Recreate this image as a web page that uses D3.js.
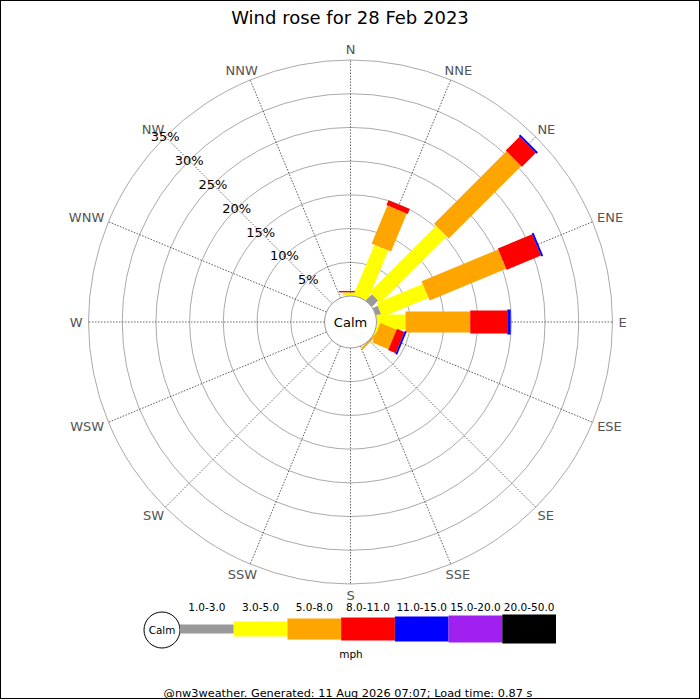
<!DOCTYPE html>
<html>
<head>
<meta charset="utf-8">
<script src="https://cdn.jsdelivr.net/npm/d3@7"></script>
<style>
  body { margin: 0; background: #fff; }
  text { font-family: "DejaVu Sans", sans-serif; }
</style>
</head>
<body>
<div id="rose"></div>
<script>
// Compass points, clockwise from north
var directions = ["N", "NNE", "NE", "ENE", "E", "ESE", "SE", "SSE",
                  "S", "SSW", "SW", "WSW", "W", "WNW", "NW", "NNW"];

// Speed bins (mph) and their colours
var speedBins = ["1.0-3.0", "3.0-5.0", "5.0-8.0", "8.0-11.0", "11.0-15.0", "15.0-20.0", "20.0-50.0"];
var binColours = ["#999999", "#ffff00", "#ffa500", "#ff0000", "#0000ff", "#a020f0", "#000000"];

// Percent of time per direction, one array per speed bin
var bin1to3   = [0, 0, 1.3, 0.8, 0, 0, 0, 0, 0, 0, 0, 0, 0, 0, 0, 0];
var bin3to5   = [0.5, 8.1, 13.9, 7.4, 4.3, 0.3, 0, 0, 0, 0, 0, 0, 0, 0, 0, 0];
var bin5to8   = [0.05, 6.1, 15.2, 12.3, 9.6, 2.6, 0.3, 0, 0, 0, 0, 0, 0, 0, 0, 0];
var bin8to11  = [0.2, 0.8, 2.9, 5.5, 5.5, 1.2, 0, 0, 0, 0, 0, 0, 0, 0, 0, 0];
var bin11to15 = [0, 0, 0.3, 0.3, 0.5, 0.3, 0, 0, 0, 0, 0, 0, 0, 0, 0, 0];
var bin15to20 = [0, 0, 0, 0, 0, 0, 0, 0, 0, 0, 0, 0, 0, 0, 0, 0];
var bin20to50 = [0, 0, 0, 0, 0, 0, 0, 0, 0, 0, 0, 0, 0, 0, 0, 0];

// Ring labels
var ringTicks = [5, 10, 15, 20, 25, 30, 35];

var binValues = [bin1to3, bin3to5, bin5to8, bin8to11, bin11to15, bin15to20, bin20to50];

var width = 700, height = 700;
var cx = 350.5, cy = 322;
var calmRadius = 26;
var outerRadius = 262;

// bar thickness grows with the speed bin
var barWidths = [9, 15, 21, 23, 25, 27, 29];

var svg = d3.select("#rose").append("svg")
  .attr("width", width)
  .attr("height", height);

// frame
svg.append("rect")
  .attr("x", 0.5).attr("y", 0.5)
  .attr("width", width - 1).attr("height", height - 2)
  .attr("fill", "#fff")
  .attr("stroke", "#000");

// title
svg.append("text")
  .attr("x", 350).attr("y", 24)
  .attr("text-anchor", "middle")
  .attr("font-size", 18)
  .text("Wind rose for 28 Feb 2023");

var rScale = d3.scaleLinear().domain([0, 35]).range([calmRadius, outerRadius]);
var angleScale = d3.scaleBand().domain(directions).range([0, 360]).paddingInner(0);
function bearing(d) { return angleScale(d); }
function rad(d) { return bearing(d) * Math.PI / 180; }

var rose = svg.append("g").attr("transform", "translate(" + cx + "," + cy + ")");

// rings
rose.selectAll(".ring").data(ringTicks).enter()
  .append("circle")
  .attr("class", "ring")
  .attr("r", function(d) { return rScale(d); })
  .attr("fill", "none")
  .attr("stroke", "#aaaaaa")
  .attr("stroke-width", 1);

// spokes
rose.selectAll(".spoke").data(directions).enter()
  .append("line")
  .attr("class", "spoke")
  .attr("transform", function(d) { return "rotate(" + bearing(d) + ")"; })
  .attr("x1", 0).attr("y1", -calmRadius)
  .attr("x2", 0).attr("y2", -rScale(35))
  .attr("stroke", "#444")
  .attr("stroke-width", 0.8)
  .attr("stroke-dasharray", "1.5,1.5");

// direction labels, anchored so they sit just outside the outer ring
var labelR = rScale(35) + 6;
var capH = 9.5;
rose.selectAll(".dirLabel").data(directions).enter()
  .append("text")
  .attr("class", "dirLabel")
  .attr("font-size", 13)
  .attr("fill", "#555")
  .text(function(d) { return d; })
  .each(function(d) {
    var t = d3.select(this);
    var w = this.getComputedTextLength();
    var s = Math.sin(rad(d)), c = Math.cos(rad(d));
    var px = s * labelR, py = -c * labelR;
    t.attr("x", px - w * (1 - s) / 2)
     .attr("y", py + capH * (1 - c) / 2);
  });

// stacked bars per direction
directions.forEach(function(dir, i) {
  var cum = 0;
  var g = rose.append("g").attr("transform", "rotate(" + bearing(dir) + ")");
  binValues.forEach(function(values, b) {
    var v = values[i];
    if (v > 0) {
      var r0 = rScale(cum), r1 = rScale(cum + v);
      g.append("rect")
        .attr("x", -barWidths[b] / 2)
        .attr("y", -r1)
        .attr("width", barWidths[b])
        .attr("height", r1 - r0)
        .attr("fill", binColours[b]);
    }
    cum += v;
  });
});

// calm circle
rose.append("circle")
  .attr("r", calmRadius)
  .attr("fill", "#fff")
  .attr("stroke", "#999")
  .attr("stroke-width", 1);
rose.append("text")
  .attr("text-anchor", "middle")
  .attr("dominant-baseline", "central")
  .attr("font-size", 13)
  .text("Calm");

// ring labels along NW
rose.selectAll(".ringLabel").data(ringTicks).enter()
  .append("text")
  .attr("class", "ringLabel")
  .attr("x", function(d) { return -rScale(d) * Math.SQRT1_2; })
  .attr("y", function(d) { return -rScale(d) * Math.SQRT1_2; })
  .attr("text-anchor", "middle")
  .attr("dominant-baseline", "central")
  .attr("font-size", 13)
  .text(function(d) { return d + "%"; });

// legend
var legendX = d3.scaleBand().domain(speedBins).range([180, 556]);
var legend = svg.append("g");
var legendMid = 629;

legend.append("circle")
  .attr("cx", 162).attr("cy", 630).attr("r", 18)
  .attr("fill", "#fff").attr("stroke", "#000");
legend.append("text")
  .attr("x", 162).attr("y", 630)
  .attr("text-anchor", "middle")
  .attr("dominant-baseline", "central")
  .attr("font-size", 10.4)
  .text("Calm");

legend.selectAll(".legBar").data(speedBins).enter()
  .append("rect")
  .attr("class", "legBar")
  .attr("x", function(d) { return legendX(d); })
  .attr("y", function(d, i) { return legendMid - barWidths[i] / 2; })
  .attr("width", legendX.bandwidth())
  .attr("height", function(d, i) { return barWidths[i]; })
  .attr("fill", function(d, i) { return binColours[i]; });

legend.selectAll(".legLabel").data(speedBins).enter()
  .append("text")
  .attr("class", "legLabel")
  .attr("x", function(d) { return legendX(d) + legendX.bandwidth() / 2; })
  .attr("y", 607)
  .attr("text-anchor", "middle")
  .attr("dominant-baseline", "central")
  .attr("font-size", 10.5)
  .text(function(d) { return d; });

legend.append("text")
  .attr("x", 351).attr("y", 654)
  .attr("text-anchor", "middle")
  .attr("dominant-baseline", "central")
  .attr("font-size", 10.5)
  .text("mph");

// footer
svg.append("text")
  .attr("x", 348).attr("y", 693)
  .attr("text-anchor", "middle")
  .attr("dominant-baseline", "central")
  .attr("font-size", 11.3)
  .text("@nw3weather. Generated: 11 Aug 2026 07:07; Load time: 0.87 s");
</script>
</body>
</html>
